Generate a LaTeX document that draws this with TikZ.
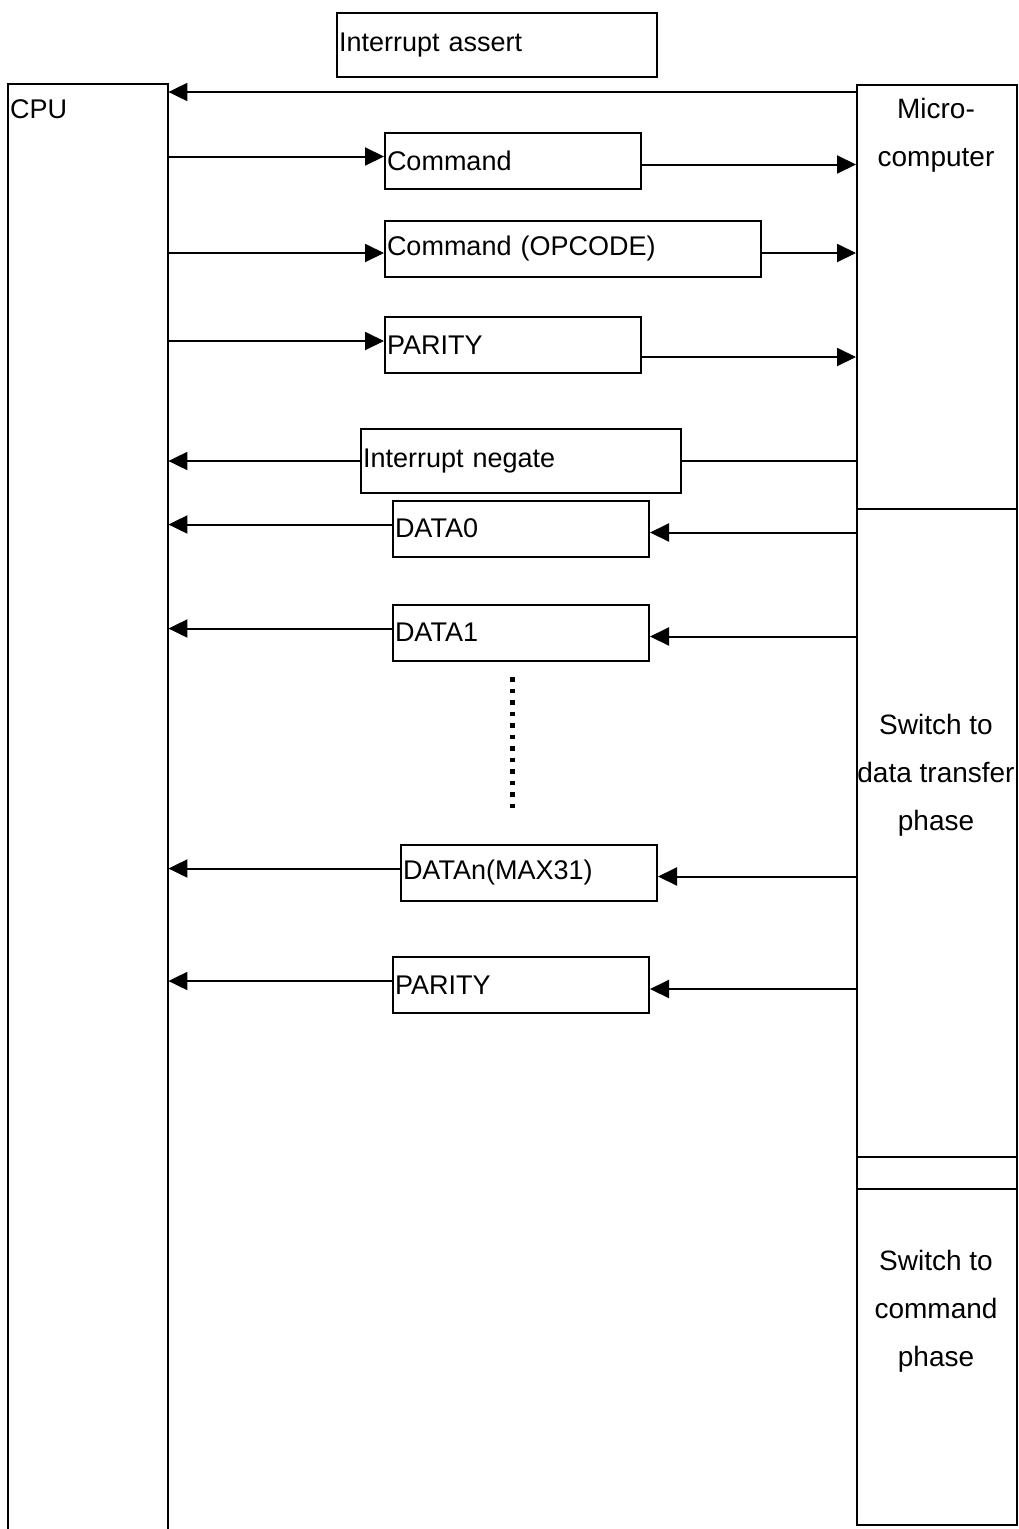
\documentclass[tikz,border=0pt]{standalone}
\usepackage{fontspec}
\setmainfont{Liberation Sans}
\usetikzlibrary{arrows.meta}
\tikzset{
  lane/.style={line width=2pt},
  colbox/.style={draw, line width=2pt, anchor=north west, minimum width=160pt, inner sep=0pt},
  msgbox/.style={draw, line width=2pt, anchor=north west, align=left, inner xsep=2pt, inner ysep=0pt, font=\fontsize{27}{32}\selectfont},
  msg/.style={line width=2pt, -{Triangle[length=19pt,width=18pt]}},
  sidetext/.style={align=center, inner sep=0pt, font=\fontsize{28}{48}\selectfont},
  dotline/.style={line width=5pt, dash pattern=on 4.5pt off 7pt}
}
\begin{document}
\begin{tikzpicture}[x=1pt,y=-1pt]
    \useasboundingbox (0,0) rectangle (1019,1529);
    % CPU lane, open at the bottom
    \node [anchor=north west, minimum width=160pt, minimum height=1460pt, inner sep=0pt] (cpu) at (8,84) {};
    \draw [lane] (cpu.south west) -- (cpu.north west) -- (cpu.north east) -- (cpu.south east);
    \node [anchor=west, inner sep=0pt, font=\fontsize{27}{32}\selectfont] (cputxt) at (10,109) {CPU};
    % micro-computer lane
    \node [colbox, minimum height=424pt] (micro) at (856,84) {};
    \node [colbox, minimum height=648pt] (xfer) at (856,508) {};
    \node [colbox, minimum height=32pt] (gap) at (856,1156) {};
    \node [colbox, minimum height=336pt] (cmdph) at (856,1188) {};
    \node [sidetext] (microtxt) at (936,135) {Micro-\\computer};
    \node [sidetext] (xfertxt) at (936,775) {Switch to\\data transfer\\phase};
    \node [sidetext] (cmdphtxt) at (936,1311) {Switch to\\command\\phase};
    % messages
    \node [msgbox, text width=316pt, minimum height=64pt] (ia) at (336,12) {Interrupt assert};
    \node [msgbox, text width=252pt, minimum height=56pt] (cmd) at (384,131.5) {Command};
    \node [msgbox, text width=372pt, minimum height=56pt] (op) at (384,219.5) {Command (OPCODE)};
    \node [msgbox, text width=252pt, minimum height=56pt] (par) at (384,316) {PARITY};
    \node [msgbox, text width=316pt, minimum height=64pt] (neg) at (360,428) {Interrupt negate};
    \node [msgbox, text width=252pt, minimum height=56pt] (d0) at (392,499.5) {DATA0};
    \node [msgbox, text width=252pt, minimum height=56pt] (d1) at (392,603.5) {DATA1};
    \node [msgbox, text width=252pt, minimum height=56pt] (dn) at (400,843.5) {DATAn(MAX31)};
    \node [msgbox, text width=252pt, minimum height=56pt] (par2) at (392,956) {PARITY};

    \draw [msg] ([yshift=-8pt]micro.north west) -- ([yshift=-8pt]cpu.north east);
    \draw [msg] ([yshift=4pt]cmd.west -| cpu.east) -- ([yshift=4pt]cmd.west);
    \draw [msg] ([yshift=-4pt]cmd.east) -- ([yshift=-4pt]cmd.east -| micro.west);
    \draw [msg] ([yshift=-4.5pt]op.west -| cpu.east) -- ([yshift=-4.5pt]op.west);
    \draw [msg] ([yshift=-4.5pt]op.east) -- ([yshift=-4.5pt]op.east -| micro.west);
    \draw [msg] ([yshift=4pt]par.west -| cpu.east) -- ([yshift=4pt]par.west);
    \draw [msg] ([yshift=-12pt]par.east) -- ([yshift=-12pt]par.east -| micro.west);
    \draw [msg] (neg.west) -- (neg.west -| cpu.east);
    \draw [lane] (neg.east) -- (neg.east -| micro.west);
    \draw [msg] ([yshift=4pt]d0.west) -- ([yshift=4pt]d0.west -| cpu.east);
    \draw [msg] ([yshift=-4pt]d0.east -| xfer.west) -- ([yshift=-4pt]d0.east);
    \draw [msg] ([yshift=4pt]d1.west) -- ([yshift=4pt]d1.west -| cpu.east);
    \draw [msg] ([yshift=-4pt]d1.east -| xfer.west) -- ([yshift=-4pt]d1.east);
    \draw [msg] ([yshift=4pt]dn.west) -- ([yshift=4pt]dn.west -| cpu.east);
    \draw [msg] ([yshift=-4pt]dn.east -| xfer.west) -- ([yshift=-4pt]dn.east);
    \draw [msg] ([yshift=4pt]par2.west) -- ([yshift=4pt]par2.west -| cpu.east);
    \draw [msg] ([yshift=-4pt]par2.east -| xfer.west) -- ([yshift=-4pt]par2.east);
    % more data frames
    \coordinate (dottop) at (512,677);
    \coordinate (dotbot) at (512,812);
    \draw [dotline] (dottop) -- (dotbot);
\end{tikzpicture}
\end{document}
